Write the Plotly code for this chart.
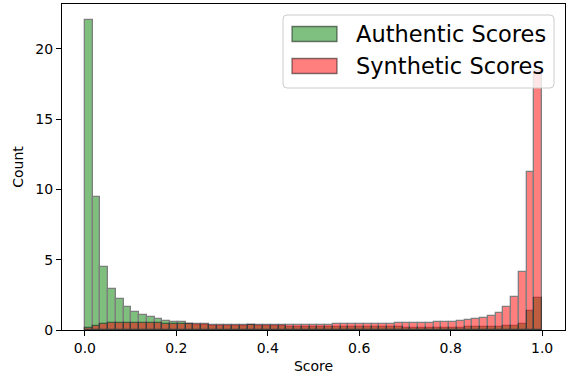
import numpy as np
import plotly.graph_objects as go

# Density values per bin (59 equal bins over [0, 1])
authentic = [22.06, 9.49, 4.5, 2.94, 2.18, 1.66, 1.25, 1.05, 0.93, 0.76,
             0.66, 0.59, 0.55, 0.45, 0.38, 0.34, 0.32, 0.31, 0.30, 0.29,
             0.30, 0.33, 0.28, 0.27, 0.26, 0.25, 0.24, 0.23, 0.22, 0.22,
             0.21, 0.21, 0.20, 0.20, 0.20, 0.19, 0.19, 0.19, 0.18, 0.18,
             0.18, 0.17, 0.17, 0.17, 0.17, 0.17, 0.17, 0.17, 0.17, 0.18,
             0.18, 0.19, 0.20, 0.22, 0.25, 0.30, 0.45, 1.35, 2.26]
synthetic = [0.14, 0.30, 0.42, 0.50, 0.52, 0.52, 0.50, 0.49, 0.48, 0.47,
             0.46, 0.45, 0.44, 0.42, 0.41, 0.40, 0.39, 0.38, 0.38, 0.37,
             0.37, 0.36, 0.36, 0.36, 0.36, 0.36, 0.36, 0.37, 0.37, 0.38,
             0.38, 0.39, 0.40, 0.40, 0.41, 0.42, 0.43, 0.44, 0.45, 0.46,
             0.47, 0.48, 0.50, 0.51, 0.52, 0.54, 0.56, 0.60, 0.64, 0.71,
             0.78, 0.88, 1.02, 1.19, 1.64, 2.37, 4.15, 11.27, 18.40]
series_names = ["Authentic Scores", "Synthetic Scores"]
x_ticks = [0.0, 0.2, 0.4, 0.6, 0.8, 1.0]
y_ticks = [0, 5, 10, 15, 20]

n_bins = len(authentic)
edges = np.linspace(0.0, 1.0, n_bins + 1)
centers = (edges[:-1] + edges[1:]) / 2
width = edges[1] - edges[0]

FONT = "DejaVu Sans"
fig = go.Figure()
fig.add_trace(go.Bar(x=centers, y=authentic, width=width, name=series_names[0],
                     marker=dict(color="#008000", line=dict(color="black", width=1.3)),
                     opacity=0.5, showlegend=False))
fig.add_trace(go.Bar(x=centers, y=synthetic, width=width, name=series_names[1],
                     marker=dict(color="#ff0000", line=dict(color="black", width=1.3)),
                     opacity=0.5, showlegend=False))

# manual legend (matplotlib style)
L, R, T, B = 62, 565, 4, 330
PW, PH = R - L, B - T
def px(x): return (x - L) / PW
def py(y): return (B - y) / PH

# rounded legend frame
x0, x1, y0, y1, r = 283, 554, 15, 88, 4
rx, ry = r / PW, r / PH
X0, X1, Yt, Yb = px(x0), px(x1), py(y0), py(y1)
path = (f"M {X0+rx},{Yt} L {X1-rx},{Yt} Q {X1},{Yt} {X1},{Yt-ry} "
        f"L {X1},{Yb+ry} Q {X1},{Yb} {X1-rx},{Yb} L {X0+rx},{Yb} "
        f"Q {X0},{Yb} {X0},{Yb+ry} L {X0},{Yt-ry} Q {X0},{Yt} {X0+rx},{Yt} Z")
shapes = [dict(type="path", xref="paper", yref="paper", path=path,
               line=dict(color="#cccccc", width=1), fillcolor="rgba(255,255,255,0.8)",
               layer="above")]
swatch_cols = ["rgba(0,128,0,0.5)", "rgba(255,0,0,0.5)"]
rows = [34, 66]
annotations = []
for name, col, yc in zip(series_names, swatch_cols, rows):
    shapes.append(dict(type="rect", xref="paper", yref="paper",
                       x0=px(292), x1=px(337), y0=py(yc + 7.5), y1=py(yc - 7.5),
                       line=dict(color="rgba(0,0,0,0.5)", width=1.3), fillcolor=col,
                       layer="above"))
    annotations.append(dict(xref="paper", yref="paper", x=px(354), y=py(yc),
                            xanchor="left", yanchor="middle", showarrow=False,
                            text=name, font=dict(family=FONT, size=22.5, color="black")))

fig.update_layout(
    width=568, height=381,
    margin=dict(l=L, r=568 - R, t=T, b=381 - B),
    paper_bgcolor="white", plot_bgcolor="white",
    barmode="overlay", bargap=0,
    font=dict(family=FONT, size=14, color="black"),
    shapes=shapes, annotations=annotations,
    xaxis=dict(range=[-0.05, 1.05], tickvals=x_ticks, tickformat=".1f",
               ticks="outside", ticklen=5, tickwidth=1, tickcolor="black",
               showline=True, linecolor="black", linewidth=1, mirror=True,
               showgrid=False, zeroline=False,
               title=dict(text="Score", standoff=6, font=dict(size=14))),
    yaxis=dict(range=[0, 23.2], tickvals=y_ticks,
               ticks="outside", ticklen=5, tickwidth=1, tickcolor="black",
               showline=True, linecolor="black", linewidth=1, mirror=True,
               showgrid=False, zeroline=False,
               title=dict(text="Count", standoff=8, font=dict(size=14))),
)
fig.write_html("out.html")
